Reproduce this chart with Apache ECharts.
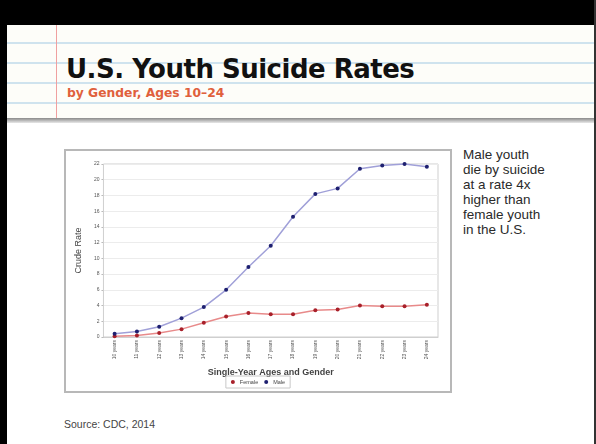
<!DOCTYPE html>
<html>
<head>
<meta charset="utf-8">
<script src="https://cdn.jsdelivr.net/npm/echarts@6/dist/echarts.min.js"></script>
<style>
  html, body { margin: 0; padding: 0; background: #fff; }
  body { width: 596px; height: 444px; position: relative; overflow: hidden; font-family: 'Liberation Sans', Arial, sans-serif; }
  .topbar { position: absolute; left: 0; top: 0; width: 596px; height: 25px; background: #000; }
  .leftbar { position: absolute; left: 0; top: 0; width: 7px; height: 444px; background: #000; }
  .rightbar { position: absolute; left: 594px; top: 0; width: 2px; height: 444px; background: #333; }
  .header {
    position: absolute; left: 7px; top: 25px; width: 587px; height: 93px;
    background-color: #fdfdf9;
    background-image: repeating-linear-gradient(to bottom, transparent 0, transparent 17px, #cfe3ee 17px, #cfe3ee 19px, transparent 19px, transparent 20px);
  }
  .margin { position: absolute; left: 56px; top: 25px; width: 1px; height: 93px; background: #f0a0a0; }
  .shadow { position: absolute; left: 7px; top: 118px; width: 587px; height: 5px; background: linear-gradient(#8a8a8a, #e8e8e8); }
  .title { position: absolute; left: 66px; top: 54px; font-family: 'DejaVu Sans', sans-serif; font-size: 26px; font-weight: bold; color: #111; letter-spacing: -0.5px; }
  .sub { position: absolute; left: 67px; top: 86px; font-family: 'DejaVu Sans', sans-serif; font-size: 12.3px; font-weight: bold; color: #e0603c; }
  #chart { position: absolute; left: 64px; top: 149px; width: 384px; height: 240px; border: 2px solid #b8b8b8; }
  .note { position: absolute; left: 463px; top: 147px; font-size: 13.5px; line-height: 15px; color: #2a2a2a; }
  .source { position: absolute; left: 64px; top: 418px; font-size: 10.5px; color: #444; }
</style>
</head>
<body>
<div class="header"></div>
<div class="margin"></div>
<div class="shadow"></div>
<div class="topbar"></div>
<div class="leftbar"></div>
<div class="rightbar"></div>
<div class="title">U.S. Youth Suicide Rates</div>
<div class="sub">by Gender, Ages 10–24</div>
<div id="chart"></div>
<div class="note">Male youth<br>die by suicide<br>at a rate 4x<br>higher than<br>female youth<br>in the U.S.</div>
<div class="source">Source: CDC, 2014</div>
<script>
const ages = ['10 years', '11 years', '12 years', '13 years', '14 years', '15 years', '16 years', '17 years',
  '18 years', '19 years', '20 years', '21 years', '22 years', '23 years', '24 years']
const female = [0.1, 0.2, 0.5, 1.0, 1.8, 2.6, 3.05, 2.9, 2.9, 3.4, 3.5, 4.0, 3.9, 3.9, 4.1]
const male = [0.4, 0.7, 1.3, 2.4, 3.8, 6.0, 8.9, 11.6, 15.3, 18.2, 18.9, 21.4, 21.8, 22.0, 21.65]

const chart = echarts.init(document.getElementById('chart'))

const lineSeries = (name, data, lineColor, dotColor) => ({
  name,
  type: 'line',
  data,
  symbol: 'circle',
  symbolSize: 4,
  clip: false,
  lineStyle: { color: lineColor, width: 1.5 },
  itemStyle: { color: dotColor },
  emphasis: { disabled: true }
})

chart.setOption({
  animation: false,
  textStyle: { fontFamily: 'Liberation Sans, Arial, sans-serif' },
  grid: { left: 33, top: 13, width: 339, height: 173, show: true, borderColor: '#cfcfcf', borderWidth: 1 },
  legend: {
    top: 225,
    left: 'center',
    icon: 'circle',
    itemWidth: 4,
    itemHeight: 4,
    itemGap: 6,
    padding: [3, 5],
    borderColor: '#c8c8c8',
    borderWidth: 1,
    textStyle: { fontSize: 5.5, color: '#444' },
    data: ['Female', 'Male']
  },
  xAxis: {
    type: 'category',
    data: ages,
    boundaryGap: true,
    name: 'Single-Year Ages and Gender',
    nameLocation: 'middle',
    nameGap: 31,
    nameTextStyle: { fontSize: 9, fontWeight: 'bold', color: '#444' },
    axisLine: { lineStyle: { color: '#cfcfcf' } },
    axisTick: { alignWithLabel: true, length: 2, lineStyle: { color: '#bbb' } },
    axisLabel: { rotate: 90, fontSize: 5, color: '#555', margin: 3, interval: 0 }
  },
  yAxis: {
    type: 'value',
    min: 0,
    max: 22,
    interval: 2,
    name: 'Crude Rate',
    nameLocation: 'middle',
    nameGap: 18,
    nameTextStyle: { fontSize: 9, color: '#444' },
    axisLine: { show: false },
    axisTick: { show: true, length: 2, lineStyle: { color: '#bbb' } },
    axisLabel: { fontSize: 5, color: '#555', margin: 4 },
    splitLine: { lineStyle: { color: '#ececec' } }
  },
  series: [
    lineSeries('Female', female, '#e88a8a', '#a8202a'),
    lineSeries('Male', male, '#a0a0d8', '#1e2070')
  ]
})
</script>
</body>
</html>
